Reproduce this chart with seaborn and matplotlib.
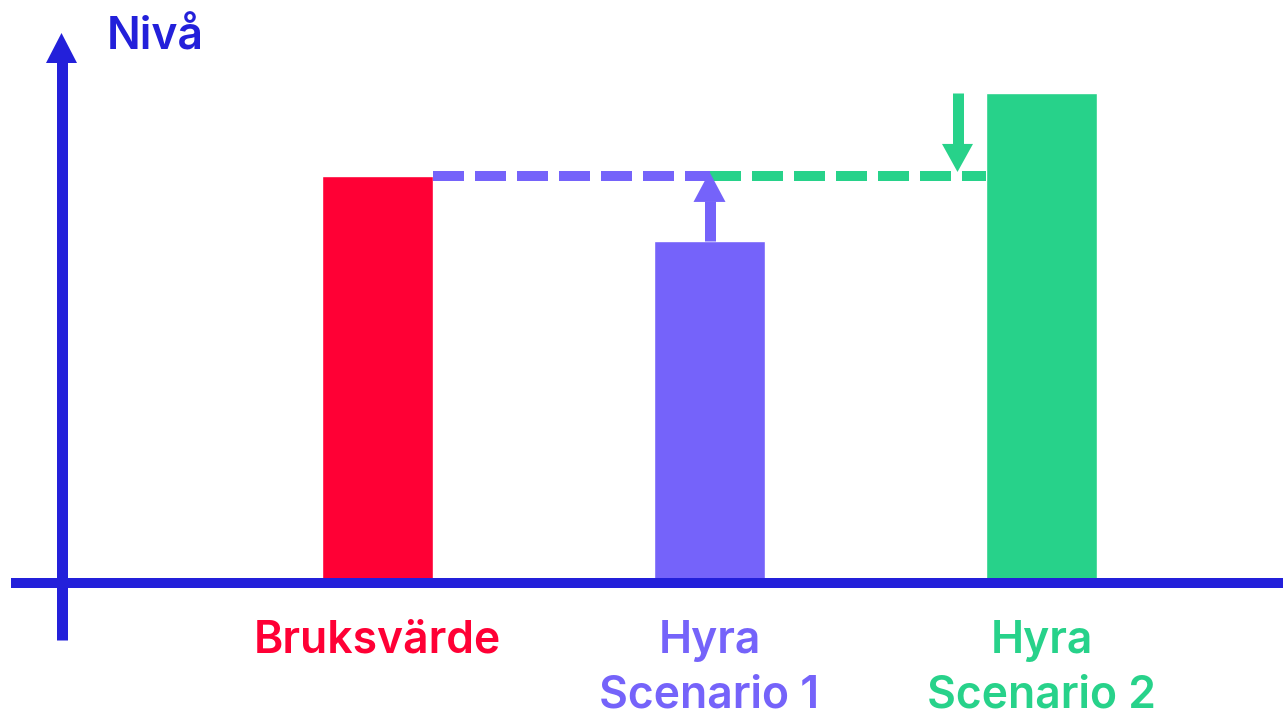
import matplotlib
matplotlib.use("Agg")
import matplotlib.pyplot as plt
import seaborn as sns
import pandas as pd

# ---- data ----
categories = ["Bruksvärde", "Hyra\nScenario 1", "Hyra\nScenario 2"]
values = [100, 84, 120.4]
axis_label = "Nivå"

# ---- style ----
bar_colors = ["#FF0035", "#7563FA", "#27D28A"]
axis_color = "#2320DA"
sns.set_theme(style="white")
plt.rcParams["font.family"] = ["Inter", "DejaVu Sans"]
plt.rcParams["lines.scale_dashes"] = False

W, H, DPI = 1283, 718, 100
fig = plt.figure(figsize=(W / DPI, H / DPI), dpi=DPI)
ax = fig.add_axes([0, 0, 1, 1])

df = pd.DataFrame({"cat": categories, "val": values})
bw = 0.334
sns.barplot(data=df, x="cat", y="val", hue="cat", palette=bar_colors,
            order=categories, width=bw, saturation=1, legend=False, ax=ax)

# scales: 332 px per category step, 4.07 px per value unit
PX_X = 1 / 332.0
PX_Y = 1 / 4.07
x0 = -377.5 * PX_X
ax.set_xlim(x0, x0 + W * PX_X)
ax.set_ylim(-(H - 583) * PX_Y, 583 * PX_Y)
ax.axis("off")

def head(x, y_tip, direction, length_px, width_px, color):
    hl = length_px * PX_Y
    hw = width_px * PX_X / 2
    yb = y_tip - direction * hl
    ax.fill([x - hw, x + hw, x], [yb, yb, y_tip], color=color, lw=0, zorder=5)
    return yb

lw_px = 11 * 72 / DPI

# axes
yaxis_x = x0 + 61.5 * PX_X
tip_y = (583 - 33) * PX_Y
base_y = head(yaxis_x, tip_y, 1, 30, 31, axis_color)
ax.plot([yaxis_x, yaxis_x], [-(640 - 583) * PX_Y, base_y + 0.3], color=axis_color,
        lw=lw_px, solid_capstyle="butt", zorder=4)
ax.plot([x0 + 11 * PX_X, x0 + W * PX_X], [0, 0], color=axis_color,
        lw=10 * 72 / DPI, solid_capstyle="butt", zorder=4)

# reference dashed lines
ref = values[0]
dash = (0, (31 * 72 / DPI, 11 * 72 / DPI))
ax.plot([0 + bw / 2, 1], [ref, ref], color=bar_colors[1], lw=10 * 72 / DPI,
        linestyle=dash, dash_capstyle="butt", zorder=3)
ax.plot([1, 2 - bw / 2], [ref, ref], color=bar_colors[2], lw=10 * 72 / DPI,
        linestyle=dash, dash_capstyle="butt", zorder=3)

# purple arrow: up from scenario 1 to reference
yb = head(1, ref + 1.0, 1, 30, 32, bar_colors[1])
ax.plot([1, 1], [values[1], yb + 0.3], color=bar_colors[1], lw=lw_px,
        solid_capstyle="butt", zorder=4)
# green arrow: down from scenario 2 level to reference
gx = x0 + 957.5 * PX_X
yb = head(gx, ref + 1.0, -1, 28, 31, bar_colors[2])
ax.plot([gx, gx], [values[2], yb - 0.3], color=bar_colors[2], lw=lw_px,
        solid_capstyle="butt", zorder=4)

# labels
fs = 32
for i, (c, col) in enumerate(zip(categories, bar_colors)):
    ax.text(i, -(622 - 583) * PX_Y + 0.6, c, color=col, ha="center", va="top",
            fontsize=fs, fontweight="semibold", linespacing=1.38)
ax.text(x0 + 107 * PX_X, (583 - 50) * PX_Y, axis_label, color=axis_color,
        ha="left", va="baseline", fontsize=fs, fontweight="semibold")

fig.savefig("out.png", dpi=DPI, facecolor="white")
